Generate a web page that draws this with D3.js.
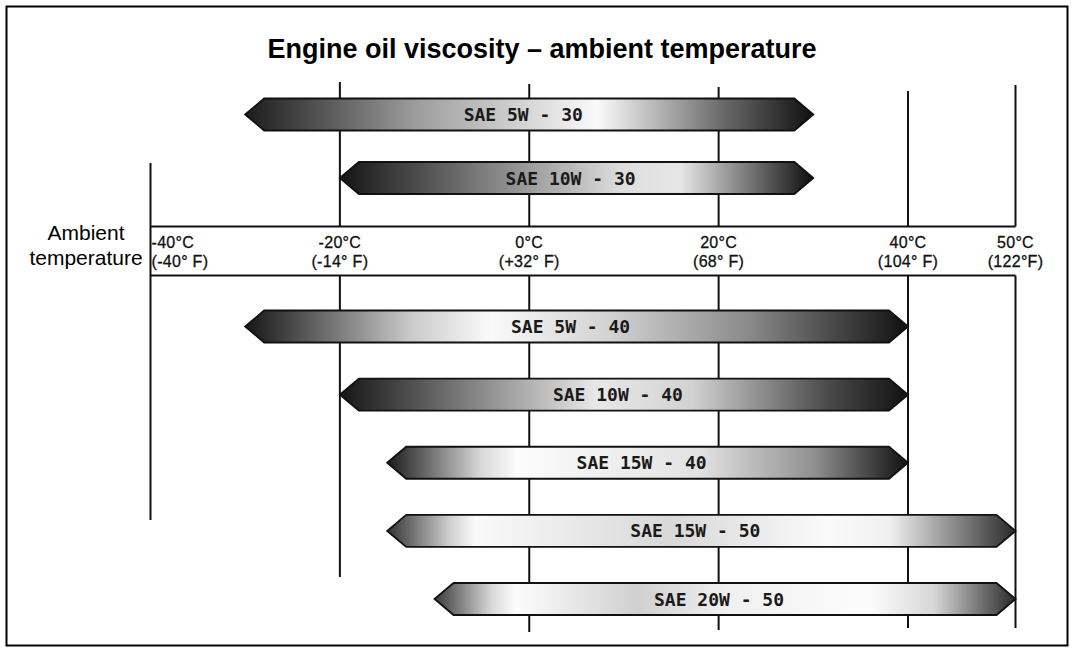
<!DOCTYPE html>
<html>
<head>
<meta charset="utf-8">
<script src="https://cdn.jsdelivr.net/npm/d3@7"></script>
<style>
  html, body { margin: 0; padding: 0; background: #fff; }
  svg { display: block; }
</style>
</head>
<body>
<svg id="chart" width="1074" height="652"></svg>
<script>
// Temperature ticks on the ambient-temperature band
const tempTicks = [-40, -20, 0, 20, 40, 50];
const celsiusLabels = ["-40°C", "-20°C", "0°C", "20°C", "40°C", "50°C"];
const fahrenheitLabels = ["(-40° F)", "(-14° F)", "(+32° F)", "(68° F)", "(104° F)", "(122°F)"];

// Oil grades above and below the band, with their usable range in °C
const upperGrades = ["SAE 5W - 30", "SAE 10W - 30"];
const lowerGrades = ["SAE 5W - 40", "SAE 10W - 40", "SAE 15W - 40", "SAE 15W - 50", "SAE 20W - 50"];
const gradeMinC = [-30, -20, -30, -20, -15, -15, -10];
const gradeMaxC = [30, 30, 40, 40, 40, 50, 50];

// ---- layout ----
const svg = d3.select("#chart");

// The last scale segment (40..50 °C) is drawn wider than the rest
const x = d3.scaleLinear().domain([-40, 40, 50]).range([150.5, 908, 1015.5]);
const yUpper = d3.scalePoint().domain(upperGrades).range([114.5, 178]);
const yLower = d3.scalePoint().domain(lowerGrades).range([326.5, 599]);

const bandTop = 226.5, bandBottom = 275.5;
const gridTop = [163, 82, 84, 87, 91, 85];
const gridBottom = [520, 577, 632, 630, 628, 628];

const barH = 32, tip = 19;

// shading of each arrow (dark ends, bright middle)
const shading = [
  [[0, "#1c1c1c"], [0.3, "#9c9c9c"], [0.62, "#fafafa"], [0.84, "#6a6a6a"], [1, "#101010"]],
  [[0, "#141414"], [0.3, "#7c7c7c"], [0.6, "#dedede"], [0.72, "#e6e6e6"], [1, "#0e0e0e"]],
  [[0, "#161616"], [0.25, "#cacaca"], [0.37, "#fafafa"], [0.55, "#d2d2d2"], [0.76, "#8a8a8a"], [1, "#101010"]],
  [[0, "#151515"], [0.3, "#a2a2a2"], [0.45, "#e8e8e8"], [0.62, "#d2d2d2"], [0.86, "#4a4a4a"], [1, "#111111"]],
  [[0, "#1a1a1a"], [0.18, "#d8d8d8"], [0.25, "#fcfcfc"], [0.6, "#e2e2e2"], [0.82, "#909090"], [1, "#111111"]],
  [[0, "#333333"], [0.1, "#cfcfcf"], [0.14, "#fafafa"], [0.45, "#d8d8d8"], [0.7, "#fafafa"], [0.8, "#f0f0f0"], [1, "#2a2a2a"]],
  [[0, "#3a3a3a"], [0.1, "#dadada"], [0.14, "#fcfcfc"], [0.35, "#d0d0d0"], [0.5, "#f0f0f0"], [0.75, "#fcfcfc"], [0.86, "#d6d6d6"], [1, "#2a2a2a"]]
];

// outer frame
svg.append("rect")
  .attr("x", 6.5).attr("y", 6.5)
  .attr("width", 1061).attr("height", 639)
  .attr("fill", "#fff").attr("stroke", "#000").attr("stroke-width", 2);

// title
svg.append("text")
  .attr("x", 542).attr("y", 58)
  .attr("text-anchor", "middle")
  .attr("font-family", "'Liberation Sans', Arial, sans-serif")
  .attr("font-weight", "bold")
  .attr("font-size", 27)
  .attr("fill", "#000")
  .text("Engine oil viscosity – ambient temperature");

// vertical reference lines, broken by the temperature band (except -40 °C)
const grid = svg.append("g").attr("stroke", "#111").attr("stroke-width", 2);
tempTicks.forEach((t, i) => {
  const xi = x(t);
  if (i === 0) {
    grid.append("line").attr("x1", xi).attr("x2", xi).attr("y1", gridTop[i]).attr("y2", gridBottom[i]);
  } else {
    grid.append("line").attr("x1", xi).attr("x2", xi).attr("y1", gridTop[i]).attr("y2", bandTop);
    grid.append("line").attr("x1", xi).attr("x2", xi).attr("y1", bandBottom).attr("y2", gridBottom[i]);
  }
});

// band edges
[bandTop, bandBottom].forEach(y => {
  grid.append("line").attr("x1", x(-40)).attr("x2", x(50)).attr("y1", y).attr("y2", y);
});

// band tick labels
const bandText = svg.append("g")
  .attr("font-family", "'Liberation Sans', Arial, sans-serif")
  .attr("font-size", 16)
  .attr("letter-spacing", 0.3)
  .attr("fill", "#111")
  .attr("stroke", "#111")
  .attr("stroke-width", 0.3);
tempTicks.forEach((t, i) => {
  const first = i === 0;
  const anchor = first ? "start" : "middle";
  const xi = first ? x(t) + 1 : x(t);
  bandText.append("text").attr("x", xi).attr("y", 248).attr("text-anchor", anchor).text(celsiusLabels[i]);
  bandText.append("text").attr("x", xi).attr("y", 267).attr("text-anchor", anchor).text(fahrenheitLabels[i]);
});

// left label of the band
const side = svg.append("g")
  .attr("font-family", "'Liberation Sans', Arial, sans-serif")
  .attr("font-size", 21)
  .attr("fill", "#000")
  .attr("text-anchor", "middle");
side.append("text").attr("x", 86).attr("y", 240).text("Ambient");
side.append("text").attr("x", 86).attr("y", 265).text("temperature");

// shading definitions
const defs = svg.append("defs");
const grades = upperGrades.concat(lowerGrades);
grades.forEach((g, i) => {
  const lg = defs.append("linearGradient").attr("id", "shade" + i)
    .attr("x1", "0").attr("x2", "1").attr("y1", "0").attr("y2", "0");
  shading[i].forEach(s => lg.append("stop").attr("offset", s[0]).attr("stop-color", s[1]));
});

// arrows
const rows = grades.map((g, i) => ({
  name: g,
  min: gradeMinC[i],
  max: gradeMaxC[i],
  y: i < upperGrades.length ? yUpper(g) : yLower(g),
  idx: i
}));

function arrowPath(d) {
  const x0 = x(d.min), x1 = x(d.max), yc = d.y, h = barH / 2;
  const p = d3.path();
  p.moveTo(x0, yc);
  p.lineTo(x0 + tip, yc - h);
  p.lineTo(x1 - tip, yc - h);
  p.lineTo(x1, yc);
  p.lineTo(x1 - tip, yc + h);
  p.lineTo(x0 + tip, yc + h);
  p.closePath();
  return p.toString();
}

const bars = svg.append("g").selectAll("g").data(rows).join("g");
bars.append("path")
  .attr("d", arrowPath)
  .attr("fill", d => "url(#shade" + d.idx + ")")
  .attr("stroke", "#111")
  .attr("stroke-width", 1.8)
  .attr("stroke-linejoin", "miter");
bars.append("text")
  .attr("x", d => (x(d.min) + x(d.max)) / 2 - 6)
  .attr("y", d => d.y + 6.5)
  .attr("text-anchor", "middle")
  .attr("font-family", "'DejaVu Sans Mono', monospace")
  .attr("font-weight", "bold")
  .attr("font-size", 18)
  .attr("fill", "#1a1a1a")
  .text(d => d.name);
</script>
</body>
</html>
